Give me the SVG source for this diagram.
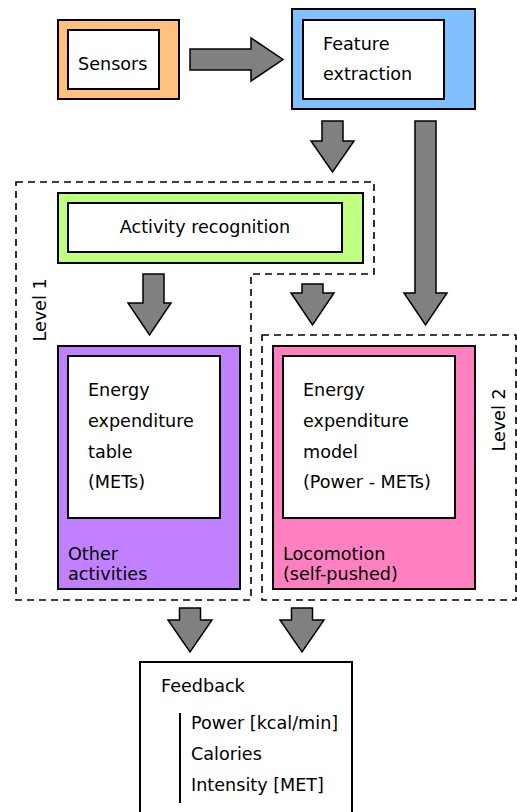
<svg xmlns="http://www.w3.org/2000/svg" width="517" height="812" viewBox="0 0 517 812">
<style>
.box{stroke:#000;stroke-width:2}
.in{fill:#fff;stroke:#000;stroke-width:2}
.arr{fill:#808080;stroke:#000;stroke-width:1.5;stroke-linejoin:miter}
.dash{fill:none;stroke:#000;stroke-width:1.6;stroke-dasharray:7 5}
text{font-family:"DejaVu Sans","Liberation Sans",sans-serif;font-size:17.6px;fill:#000}
</style>
<rect width="517" height="812" fill="#fff"/>
<g id="level1"><path class="dash" d="M16,182 H374 V274 H251 V600 H16 Z"/><text transform="translate(46,310) rotate(-90)" text-anchor="middle">Level 1</text></g>
<g id="level2"><rect class="dash" x="262" y="335" width="254" height="265"/><text transform="translate(505,420) rotate(-90)" text-anchor="middle">Level 2</text></g>
<g id="sensors"><rect class="box" x="58" y="20" width="121" height="79" fill="#FFC080"/><rect class="in" x="68" y="30" width="91" height="59"/><text x="78" y="70">Sensors</text></g>
<g id="feature"><rect class="box" x="292" y="9" width="183" height="100" fill="#80C0FF"/><rect class="in" x="303" y="20" width="141" height="79"/><text x="323" y="50">Feature</text><text x="323" y="80">extraction</text></g>
<g id="activity"><rect class="box" x="58" y="193" width="305" height="70" fill="#C0FF80"/><rect class="in" x="68" y="203" width="274" height="49"/><text x="205" y="233" text-anchor="middle">Activity recognition</text></g>
<g id="other"><rect class="box" x="58" y="346" width="182" height="243" fill="#C080FF"/><rect class="in" x="68" y="356" width="152" height="162"/><text x="88" y="396">Energy</text><text x="88" y="427">expenditure</text><text x="88" y="458">table</text><text x="88" y="488">(METs)</text><text x="68" y="560">Other</text><text x="68" y="580">activities</text></g>
<g id="locomotion"><rect class="box" x="273" y="346" width="202" height="243" fill="#FF80C0"/><rect class="in" x="283" y="356" width="172" height="162"/><text x="303" y="396">Energy</text><text x="303" y="427">expenditure</text><text x="303" y="458">model</text><text x="303" y="488">(Power - METs)</text><text x="283" y="560">Locomotion</text><text x="283" y="580">(self-pushed)</text></g>
<g id="feedback"><rect x="140" y="662" width="212" height="170" fill="#fff" stroke="#000" stroke-width="2"/><text x="161" y="692">Feedback</text><line x1="180" y1="713" x2="180" y2="803" stroke="#000" stroke-width="2"/><text x="191" y="729">Power [kcal/min]</text><text x="191" y="760">Calories</text><text x="191" y="791">Intensity [MET]</text></g>
<g id="connectors">
<polygon class="arr" points="190,49 251,49 251,38 283,59.5 251,81 251,70 190,70"/>
<polygon class="arr" points="322,121 343,121 343,141 354,141 332.5,172 311,141 322,141"/>
<polygon class="arr" points="415,121 436,121 436,293 447,293 425.5,325 404,293 415,293"/>
<polygon class="arr" points="143,274 164,274 164,303 171,303 149.5,335 128,303 143,303"/>
<polygon class="arr" points="302,284 323,284 323,293 334,293 312.5,325 291,293 302,293"/>
<polygon class="arr" points="179.5,608 200.5,608 200.5,620 212,620 190,652 168,620 179.5,620"/>
<polygon class="arr" points="291.5,608 312.5,608 312.5,620 324,620 302,652 280,620 291.5,620"/>
</g>
</svg>
